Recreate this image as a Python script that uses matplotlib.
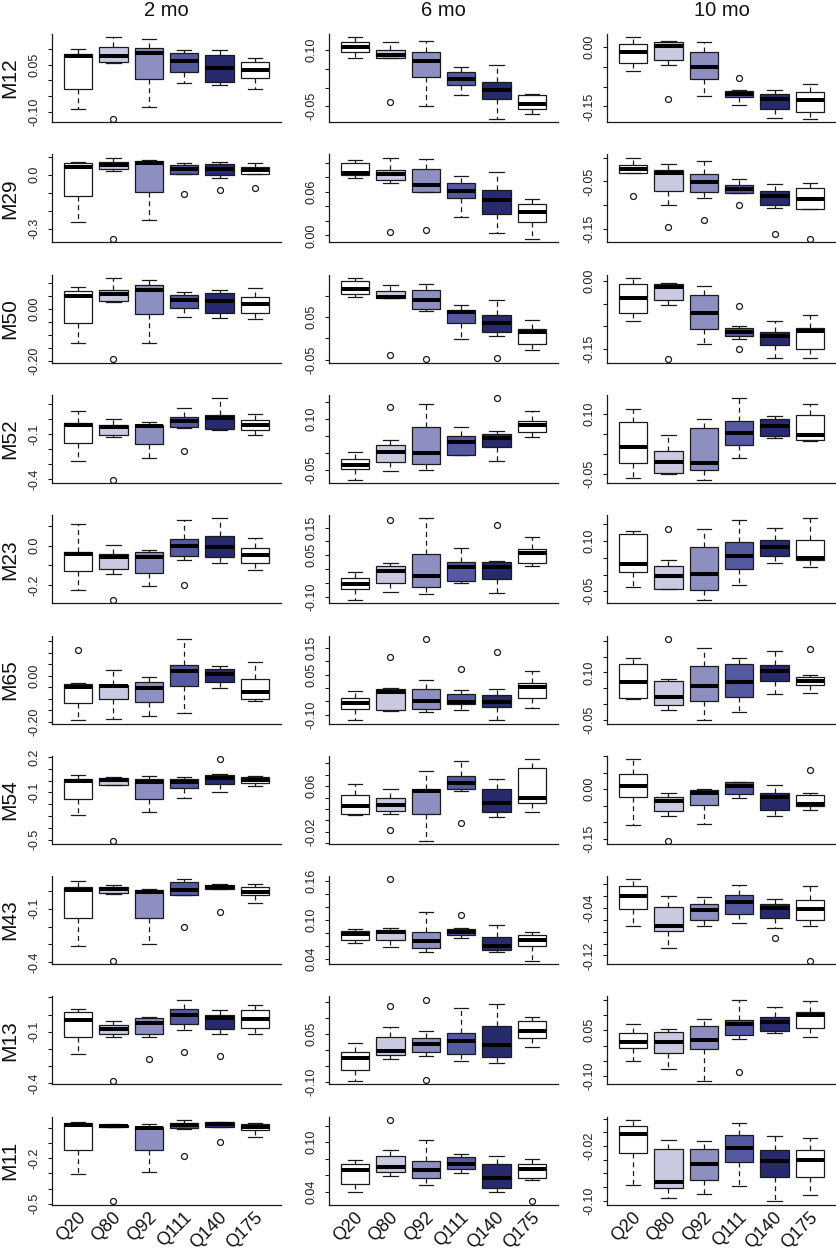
import matplotlib
matplotlib.use("Agg")
import matplotlib.pyplot as plt
import matplotlib.transforms as mtrans
import numpy as np

plt.rcParams['font.family'] = ['Liberation Sans', 'DejaVu Sans']
plt.rcParams['axes.unicode_minus'] = False

groups = ["Q20", "Q80", "Q92", "Q111", "Q140", "Q175"]
timepoints = ["2 mo", "6 mo", "10 mo"]
metabolites = ["M12", "M29", "M50", "M52", "M23", "M65", "M54", "M43", "M13", "M11"]
box_colors = ["#ffffff", "#c9c9e2", "#8d8fc0", "#5559a0", "#272a6c", "#ffffff"]

# each box: (lower whisker, Q1, median, Q3, upper whisker); outliers by box index
M12_2mo = [(-0.090, -0.026, 0.076, 0.084, 0.100), (0.055, 0.059, 0.079, 0.105, 0.137),
           (-0.085, 0.004, 0.087, 0.102, 0.130), (-0.007, 0.027, 0.062, 0.087, 0.095),
           (-0.016, -0.005, 0.038, 0.081, 0.095), (-0.026, 0.007, 0.034, 0.059, 0.071)]
M12_2mo_out = {1: [-0.122]}
M12_6mo = [(0.078, 0.096, 0.109, 0.121, 0.134), (0.078, 0.080, 0.086, 0.101, 0.121),
           (-0.048, 0.029, 0.071, 0.096, 0.125), (-0.020, 0.007, 0.024, 0.042, 0.055),
           (-0.083, -0.031, -0.007, 0.015, 0.060), (-0.071, -0.057, -0.045, -0.020, -0.016)]
M12_6mo_out = {1: [-0.039]}
M12_10mo = [(-0.060, -0.040, -0.013, 0.008, 0.024), (-0.047, -0.033, 0.001, 0.011, 0.014),
            (-0.124, -0.080, -0.050, -0.014, 0.011), (-0.146, -0.127, -0.119, -0.111, -0.109),
            (-0.178, -0.156, -0.131, -0.118, -0.109), (-0.181, -0.165, -0.134, -0.114, -0.093)]
M12_10mo_out = {1: [-0.131], 3: [-0.078]}

M29_2mo = [(-0.264, -0.119, 0.044, 0.064, 0.072), (0.020, 0.031, 0.057, 0.070, 0.096),
           (-0.253, -0.096, 0.064, 0.076, 0.083), (0.007, 0.007, 0.031, 0.055, 0.063),
           (-0.016, 0.000, 0.035, 0.061, 0.070), (0.005, 0.005, 0.029, 0.046, 0.064)]
M29_2mo_out = {1: [-0.358], 3: [-0.106], 4: [-0.087], 5: [-0.072]}
M29_6mo = [(0.079, 0.083, 0.086, 0.099, 0.103), (0.072, 0.076, 0.085, 0.090, 0.107),
           (0.059, 0.060, 0.069, 0.091, 0.105), (0.025, 0.051, 0.061, 0.072, 0.081),
           (0.003, 0.029, 0.048, 0.063, 0.087), (-0.005, 0.018, 0.032, 0.043, 0.050)]
M29_6mo_out = {1: [0.004], 2: [0.008]}
M29_10mo = [(-0.033, -0.032, -0.025, -0.015, 0.000), (-0.100, -0.070, -0.032, -0.027, -0.013),
            (-0.085, -0.073, -0.051, -0.035, -0.007), (-0.074, -0.074, -0.065, -0.058, -0.044),
            (-0.106, -0.100, -0.080, -0.070, -0.056), (-0.107, -0.107, -0.086, -0.063, -0.054)]
M29_10mo_out = {0: [-0.081], 1: [-0.146], 2: [-0.130], 3: [-0.099], 4: [-0.161], 5: [-0.171]}

M50_2mo = [(-0.132, -0.053, 0.049, 0.068, 0.085), (0.026, 0.030, 0.057, 0.073, 0.119),
           (-0.132, -0.020, 0.072, 0.091, 0.109), (-0.031, 0.003, 0.034, 0.054, 0.066),
           (-0.034, -0.016, 0.029, 0.060, 0.074), (-0.038, -0.014, 0.018, 0.045, 0.080)]
M50_2mo_out = {1: [-0.193]}
M50_6mo = [(0.097, 0.104, 0.117, 0.134, 0.142), (0.094, 0.094, 0.097, 0.111, 0.125),
           (0.065, 0.068, 0.090, 0.114, 0.128), (-0.001, 0.036, 0.061, 0.066, 0.078),
           (0.005, 0.014, 0.036, 0.054, 0.090), (-0.026, -0.012, 0.014, 0.023, 0.043)]
M50_6mo_out = {1: [-0.038], 2: [-0.049], 4: [-0.047]}
M50_10mo = [(-0.088, -0.070, -0.038, -0.007, 0.007), (-0.052, -0.042, -0.014, -0.007, -0.004),
            (-0.140, -0.107, -0.071, -0.030, -0.012), (-0.129, -0.122, -0.112, -0.104, -0.099),
            (-0.169, -0.141, -0.121, -0.112, -0.089), (-0.169, -0.150, -0.111, -0.103, -0.075)]
M50_10mo_out = {1: [-0.173], 3: [-0.055, -0.150]}

M52_2mo = [(-0.280, -0.159, -0.037, -0.026, 0.056), (-0.117, -0.104, -0.053, -0.042, 0.003),
           (-0.258, -0.163, -0.048, -0.037, -0.022), (-0.059, -0.053, -0.015, 0.014, 0.071),
           (-0.075, -0.066, 0.007, 0.029, 0.138), (-0.104, -0.073, -0.042, -0.008, 0.036)]
M52_2mo_out = {1: [-0.402], 3: [-0.210]}
M52_6mo = [(-0.078, -0.046, -0.034, -0.016, 0.002), (-0.054, -0.027, 0.002, 0.025, 0.037),
           (-0.049, -0.031, 0.000, 0.076, 0.144), (-0.006, -0.006, 0.033, 0.051, 0.076),
           (-0.024, 0.017, 0.044, 0.057, 0.064), (0.048, 0.062, 0.083, 0.095, 0.122)]
M52_6mo_out = {1: [0.134], 4: [0.161]}
M52_10mo = [(-0.060, -0.022, 0.017, 0.081, 0.113), (-0.050, -0.048, -0.020, 0.007, 0.047),
            (-0.064, -0.041, -0.023, 0.065, 0.088), (-0.010, 0.023, 0.054, 0.083, 0.140),
            (0.040, 0.045, 0.071, 0.089, 0.096), (0.033, 0.035, 0.049, 0.097, 0.126)]
M52_10mo_out = {}

M23_2mo = [(-0.228, -0.131, -0.044, -0.032, 0.111), (-0.145, -0.119, -0.056, -0.043, 0.005),
           (-0.206, -0.141, -0.060, -0.034, -0.024), (-0.075, -0.053, 0.000, 0.036, 0.130),
           (-0.087, -0.058, -0.005, 0.048, 0.138), (-0.126, -0.087, -0.049, -0.012, 0.037)]
M23_2mo_out = {1: [-0.276], 3: [-0.201]}
M23_6mo = [(-0.112, -0.074, -0.055, -0.032, -0.010), (-0.083, -0.051, -0.008, 0.012, 0.020),
           (-0.089, -0.065, -0.026, 0.056, 0.183), (-0.050, -0.043, 0.006, 0.026, 0.076),
           (-0.088, -0.037, 0.009, 0.026, 0.028), (0.010, 0.022, 0.059, 0.074, 0.117)]
M23_6mo_out = {1: [0.177], 4: [0.159]}
M23_10mo = [(-0.038, 0.008, 0.033, 0.120, 0.130), (-0.043, -0.043, -0.005, 0.027, 0.045),
            (-0.076, -0.045, 0.002, 0.084, 0.135), (-0.030, 0.017, 0.057, 0.098, 0.163),
            (0.034, 0.055, 0.084, 0.103, 0.138), (0.024, 0.044, 0.051, 0.102, 0.168)]
M23_10mo_out = {1: [0.135]}

M65_2mo = [(-0.193, -0.116, -0.049, -0.036, -0.030), (-0.187, -0.100, -0.046, -0.039, 0.025),
           (-0.174, -0.113, -0.054, -0.025, -0.003), (-0.162, -0.043, 0.023, 0.045, 0.161),
           (-0.052, -0.029, 0.006, 0.028, 0.041), (-0.109, -0.100, -0.072, -0.013, 0.059)]
M65_2mo_out = {0: [0.113]}
M65_6mo = [(-0.121, -0.080, -0.057, -0.038, -0.012), (-0.086, -0.084, -0.014, -0.004, -0.001),
           (-0.090, -0.080, -0.048, -0.005, 0.030), (-0.084, -0.062, -0.052, -0.023, -0.008),
           (-0.121, -0.073, -0.052, -0.027, -0.005), (-0.077, -0.039, 0.005, 0.017, 0.062)]
M65_6mo_out = {1: [0.116], 2: [0.184], 3: [0.071], 4: [0.134]}
M65_10mo = [(0.014, 0.020, 0.068, 0.128, 0.146), (-0.020, -0.004, 0.023, 0.074, 0.080),
            (-0.052, 0.009, 0.057, 0.121, 0.178), (-0.026, 0.021, 0.071, 0.127, 0.146),
            (0.030, 0.073, 0.105, 0.123, 0.168), (0.033, 0.060, 0.074, 0.085, 0.092)]
M65_10mo_out = {1: [0.207], 5: [0.176]}

M54_2mo = [(-0.290, -0.157, -0.007, 0.016, 0.044), (-0.035, -0.035, 0.007, 0.019, 0.030),
           (-0.267, -0.154, -0.015, 0.013, 0.036), (-0.143, -0.063, -0.015, 0.016, 0.027),
           (-0.097, -0.027, 0.022, 0.050, 0.058), (-0.046, -0.024, 0.002, 0.027, 0.036)]
M54_2mo_out = {1: [-0.508], 4: [0.183]}
M54_6mo = [(0.009, 0.011, 0.026, 0.045, 0.064), (0.011, 0.016, 0.027, 0.039, 0.054),
           (-0.035, 0.011, 0.051, 0.055, 0.087), (0.052, 0.054, 0.065, 0.077, 0.104),
           (0.006, 0.014, 0.030, 0.055, 0.073), (0.014, 0.030, 0.039, 0.092, 0.107)]
M54_6mo_out = {1: [-0.017], 3: [-0.004]}
M54_10mo = [(-0.108, -0.024, 0.011, 0.045, 0.091), (-0.080, -0.067, -0.037, -0.025, -0.010),
            (-0.105, -0.049, -0.012, -0.002, 0.000), (-0.027, -0.013, 0.011, 0.021, 0.023),
            (-0.082, -0.062, -0.025, -0.012, 0.013), (-0.064, -0.052, -0.045, -0.017, -0.012)]
M54_10mo_out = {1: [-0.155], 5: [0.058]}

M43_2mo = [(-0.310, -0.151, 0.004, 0.019, 0.054), (-0.017, -0.013, 0.009, 0.022, 0.030),
           (-0.297, -0.151, -0.007, 0.002, 0.011), (-0.021, -0.021, 0.006, 0.050, 0.064),
           (0.009, 0.009, 0.021, 0.032, 0.036), (-0.071, -0.024, -0.004, 0.019, 0.039)]
M43_2mo_out = {1: [-0.392], 3: [-0.202], 4: [-0.120]}
M43_6mo = [(0.064, 0.069, 0.078, 0.083, 0.087), (0.059, 0.069, 0.081, 0.085, 0.088),
           (0.050, 0.057, 0.068, 0.081, 0.113), (0.073, 0.077, 0.081, 0.087, 0.088),
           (0.051, 0.054, 0.060, 0.074, 0.092), (0.037, 0.060, 0.069, 0.077, 0.081)]
M43_6mo_out = {1: [0.163], 3: [0.108]}
M43_10mo = [(-0.070, -0.042, -0.020, -0.004, 0.008), (-0.107, -0.078, -0.071, -0.039, -0.020),
            (-0.071, -0.061, -0.044, -0.033, -0.022), (-0.065, -0.050, -0.030, -0.019, -0.002),
            (-0.073, -0.057, -0.040, -0.034, -0.025), (-0.071, -0.061, -0.041, -0.026, -0.003)]
M43_10mo_out = {4: [-0.091], 5: [-0.129]}

M13_2mo = [(-0.229, -0.131, -0.032, 0.013, 0.033), (-0.133, -0.114, -0.084, -0.063, -0.039),
           (-0.133, -0.114, -0.049, -0.018, -0.014), (-0.090, -0.055, -0.004, 0.031, 0.087),
           (-0.112, -0.084, -0.022, 0.000, 0.025), (-0.114, -0.080, -0.028, 0.029, 0.056)]
M13_2mo_out = {1: [-0.387], 2: [-0.260], 3: [-0.215], 4: [-0.241]}
M13_6mo = [(-0.098, -0.064, -0.025, -0.006, 0.022), (-0.030, -0.017, -0.003, 0.041, 0.070),
           (-0.021, -0.008, 0.018, 0.037, 0.059), (-0.035, -0.014, 0.027, 0.051, 0.131),
           (-0.040, -0.024, 0.015, 0.074, 0.142), (0.007, 0.038, 0.059, 0.091, 0.103)]
M13_6mo_out = {1: [0.136], 2: [-0.095, 0.156]}
M13_10mo = [(-0.050, -0.008, 0.012, 0.042, 0.070), (-0.078, -0.023, 0.012, 0.043, 0.053),
            (-0.117, -0.010, 0.017, 0.065, 0.088), (0.020, 0.035, 0.070, 0.084, 0.151),
            (0.040, 0.048, 0.077, 0.095, 0.126), (0.027, 0.057, 0.101, 0.112, 0.148)]
M13_10mo_out = {3: [-0.088]}

M11_2mo = [(-0.306, -0.143, 0.019, 0.030, 0.038), (0.003, 0.003, 0.012, 0.019, 0.027),
           (-0.291, -0.147, -0.003, 0.008, 0.023), (-0.006, -0.001, 0.019, 0.034, 0.052),
           (0.005, 0.005, 0.023, 0.036, 0.041), (-0.063, -0.015, 0.005, 0.027, 0.030)]
M11_2mo_out = {1: [-0.485], 3: [-0.185], 4: [-0.092]}
M11_6mo = [(0.040, 0.049, 0.066, 0.074, 0.078), (0.059, 0.064, 0.070, 0.083, 0.091),
           (0.048, 0.056, 0.066, 0.077, 0.103), (0.062, 0.067, 0.073, 0.082, 0.086),
           (0.040, 0.044, 0.057, 0.073, 0.083), (0.054, 0.057, 0.068, 0.073, 0.080)]
M11_6mo_out = {1: [0.127], 5: [0.028]}
M11_10mo = [(-0.077, -0.030, -0.003, 0.009, 0.018), (-0.096, -0.082, -0.072, -0.025, -0.011),
            (-0.090, -0.069, -0.046, -0.024, -0.012), (-0.078, -0.044, -0.023, -0.004, 0.014),
            (-0.101, -0.066, -0.042, -0.026, -0.005), (-0.092, -0.066, -0.040, -0.026, -0.009)]
M11_10mo_out = {}

# y-axis tick step and the tick values that carry a label, per metabolite (2, 6, 10 mo)
y_step = {
    "M12": [0.05, 0.05, 0.05], "M29": [0.1, 0.02, 0.05], "M50": [0.05, 0.05, 0.05],
    "M52": [0.1, 0.05, 0.05], "M23": [0.1, 0.05, 0.05], "M65": [0.05, 0.05, 0.05],
    "M54": [0.1, 0.02, 0.05], "M43": [0.1, 0.02, 0.02], "M13": [0.1, 0.05, 0.05],
    "M11": [0.1, 0.02, 0.02],
}
y_labeled = {
    "M12": [[-0.10, 0.05], [-0.05, 0.10], [-0.15, 0.00]],
    "M29": [[-0.3, 0.0], [0.00, 0.06], [-0.15, -0.05]],
    "M50": [[-0.20, 0.00], [-0.05, 0.05, 0.15], [-0.15, 0.00]],
    "M52": [[-0.4, -0.1], [-0.05, 0.10], [-0.05, 0.10]],
    "M23": [[-0.2, 0.0], [-0.10, 0.05, 0.15], [-0.05, 0.10]],
    "M65": [[-0.20, 0.00], [-0.10, 0.05, 0.15], [-0.05, 0.10]],
    "M54": [[-0.5, -0.1, 0.2], [-0.02, 0.06], [-0.15, 0.00]],
    "M43": [[-0.4, -0.1], [0.04, 0.10, 0.16], [-0.12, -0.04]],
    "M13": [[-0.4, -0.1], [-0.10, 0.05], [-0.10, 0.05]],
    "M11": [[-0.5, -0.2], [0.04, 0.10], [-0.10, -0.02]],
}

panels = {
    "M12": [(M12_2mo, M12_2mo_out), (M12_6mo, M12_6mo_out), (M12_10mo, M12_10mo_out)],
    "M29": [(M29_2mo, M29_2mo_out), (M29_6mo, M29_6mo_out), (M29_10mo, M29_10mo_out)],
    "M50": [(M50_2mo, M50_2mo_out), (M50_6mo, M50_6mo_out), (M50_10mo, M50_10mo_out)],
    "M52": [(M52_2mo, M52_2mo_out), (M52_6mo, M52_6mo_out), (M52_10mo, M52_10mo_out)],
    "M23": [(M23_2mo, M23_2mo_out), (M23_6mo, M23_6mo_out), (M23_10mo, M23_10mo_out)],
    "M65": [(M65_2mo, M65_2mo_out), (M65_6mo, M65_6mo_out), (M65_10mo, M65_10mo_out)],
    "M54": [(M54_2mo, M54_2mo_out), (M54_6mo, M54_6mo_out), (M54_10mo, M54_10mo_out)],
    "M43": [(M43_2mo, M43_2mo_out), (M43_6mo, M43_6mo_out), (M43_10mo, M43_10mo_out)],
    "M13": [(M13_2mo, M13_2mo_out), (M13_6mo, M13_6mo_out), (M13_10mo, M13_10mo_out)],
    "M11": [(M11_2mo, M11_2mo_out), (M11_6mo, M11_6mo_out), (M11_10mo, M11_10mo_out)],
}

# ---------------- layout (pixels) ----------------
W, H = 837, 1253
col_x = [52, 329, 607]
ax_w = 229
row_top0, row_pitch, ax_h = 34, 120.3, 88
edge = "#1a1a1a"

fig = plt.figure(figsize=(W / 100, H / 100), dpi=100)
fig.patch.set_facecolor("white")


def fmt_val(v, step):
    dec = max(0, int(round(-np.floor(np.log10(step) + 1e-9))))
    s = f"{v:.{dec}f}"
    if s.startswith("-") and float(s) == 0:
        s = s[1:]
    return s


for r, met in enumerate(metabolites):
    top = row_top0 + r * row_pitch
    for c in range(3):
        boxes, outs = panels[met][c]
        ax = fig.add_axes([col_x[c] / W, 1 - (top + ax_h) / H, ax_w / W, ax_h / H])
        stats = []
        allv = []
        for i, (lo, q1, med, q3, hi) in enumerate(boxes):
            fl = outs.get(i, [])
            stats.append(dict(whislo=lo, q1=q1, med=med, q3=q3, whishi=hi, fliers=fl))
            allv += [lo, hi] + list(fl)
        res = ax.bxp(stats, positions=range(1, 7), widths=0.8, patch_artist=True,
                     capwidths=0.4, manage_ticks=False,
                     boxprops=dict(edgecolor=edge, linewidth=0.9),
                     medianprops=dict(color="black", linewidth=2.9, solid_capstyle="butt"),
                     whiskerprops=dict(color=edge, linewidth=0.9, linestyle=(0, (4, 3))),
                     capprops=dict(color=edge, linewidth=0.9),
                     flierprops=dict(marker="o", markerfacecolor="none", markeredgecolor=edge,
                                     markersize=4.3, markeredgewidth=0.9, linestyle="none"))
        for patch, col in zip(res["boxes"], box_colors):
            patch.set_facecolor(col)
        lo_all, hi_all = min(allv), max(allv)
        rng = hi_all - lo_all
        ylo, yhi = lo_all - 0.04 * rng, hi_all + 0.04 * rng
        ax.set_ylim(ylo, yhi)
        ax.set_xlim(0.26, 6.74)
        step = y_step[met][c]
        k0 = int(np.ceil(ylo / step - 1e-6))
        k1 = int(np.floor(yhi / step + 1e-6))
        ticks = [k * step for k in range(k0, k1 + 1)]
        labs = []
        for t in ticks:
            if any(abs(t - l) < step * 0.1 for l in y_labeled[met][c]):
                labs.append(fmt_val(t, step))
            else:
                labs.append("")
        ax.set_yticks(ticks)
        ax.set_yticklabels(labs)
        ax.tick_params(axis="y", length=3, width=0.8, color=edge, pad=5.5,
                       labelsize=9, labelcolor="#222222", labelrotation=90)
        for lab in ax.get_yticklabels():
            lab.set_va("center")
        ax.set_xticks([])
        for s in ("top", "right"):
            ax.spines[s].set_visible(False)
        for s in ("left", "bottom"):
            ax.spines[s].set_linewidth(0.9)
            ax.spines[s].set_color(edge)
        if r == len(metabolites) - 1:
            tr = ax.get_xaxis_transform() + mtrans.ScaledTranslation(5 / 100, -10 / 100,
                                                                      fig.dpi_scale_trans)
            for i, g in enumerate(groups):
                ax.text(i + 1, 0, g, transform=tr, rotation=45, ha="right", va="center",
                        rotation_mode="anchor", fontsize=13, color="#111111")
        if r == 0:
            fig.text((col_x[c] + ax_w / 2) / W, 1 - 10 / H, timepoints[c], ha="center",
                     va="center", fontsize=14.5, color="#111111")
    fig.text(10 / W, 1 - (top + ax_h / 2) / H, met, rotation=90, ha="center", va="center",
             fontsize=15, color="#111111")

fig.savefig("out.png", dpi=100, facecolor="white")
